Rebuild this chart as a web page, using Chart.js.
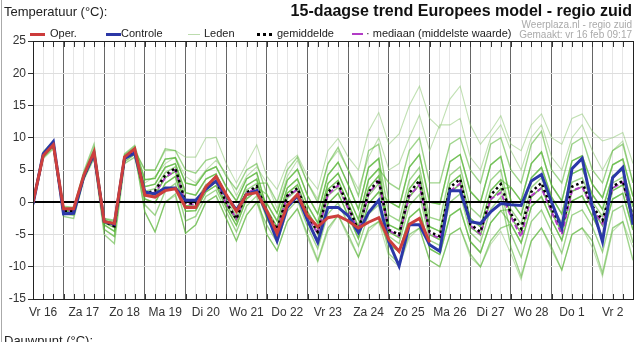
<!DOCTYPE html>
<html><head><meta charset="utf-8">
<script src="https://cdn.jsdelivr.net/npm/chart.js@4/dist/chart.umd.min.js"></script>
<style>
html,body{margin:0;padding:0;background:#fff;}
#wrap{position:relative;width:640px;height:342px;overflow:hidden;font-family:"Liberation Sans",Arial,sans-serif;}
#c{position:absolute;left:0;top:0;}
.t{position:absolute;white-space:nowrap;line-height:1;}
.ln{position:absolute;}
</style></head>
<body><div id="wrap">
<canvas id="c" width="640" height="342"></canvas>
<div style="position:absolute;left:1px;top:0;width:0;height:342px;border-left:1px solid #aaa"></div>
<div class="t" style="left:4px;top:5px;font-size:13px;color:#222">Temperatuur (°C):</div>
<div class="t" style="right:8px;top:3px;font-size:16px;font-weight:bold;color:#111">15-daagse trend Europees model - regio zuid</div>
<div class="t" style="right:8px;top:20px;font-size:10px;color:#aaa">Weerplaza.nl - regio zuid</div>
<div class="t" style="right:8px;top:30px;font-size:10px;color:#aaa">Gemaakt: vr 16 feb 09:17</div>

<div class="ln" style="left:30px;top:33px;width:15px;height:3px;background:#cc3b3b"></div>
<div class="t" style="left:50px;top:28px;font-size:11px;color:#222">Oper.</div>
<div class="ln" style="left:106px;top:33px;width:15px;height:3px;background:#2b37a6"></div>
<div class="t" style="left:121px;top:28px;font-size:11px;color:#222">Controle</div>
<div class="ln" style="left:188px;top:34px;width:12px;height:1px;background:#bcdcae"></div>
<div class="t" style="left:204px;top:28px;font-size:11px;color:#222">Leden</div>
<div class="ln" style="left:257px;top:33px;width:15px;height:0;border-top:3px dotted #000"></div>
<div class="t" style="left:277px;top:28px;font-size:11px;color:#222">gemiddelde</div>
<div class="ln" style="left:352px;top:33px;width:11px;height:2px;background:#b23cc6"></div>
<div class="t" style="left:366px;top:28px;font-size:11px;color:#222">· mediaan (middelste waarde)</div>

<div class="t" style="left:4px;top:334px;font-size:13px;color:#222">Dauwpunt (°C):</div>
</div>
<script>
const dayLabels = ["Vr 16","Za 17","Zo 18","Ma 19","Di 20","Wo 21","Do 22","Vr 23","Za 24","Zo 25","Ma 26","Di 27","Wo 28","Do 1","Vr 2"];
const yTicks = [-15,-10,-5,0,5,10,15,20,25];

const oper = [0.0,7.2,8.9,-1.0,-1.0,4.2,7.8,-3.0,-3.3,7.0,8.3,
1.1,0.8,1.8,2.1,-0.8,-0.8,2.4,4.0,1.2,-1.4,1.2,1.5,
-1.4,-4.8,-0.5,1.2,-2.1,-3.8,-2.4,-2.1,-2.9,-4.0,-3.1,-2.4,
-5.8,-7.6,-3.4,-2.5,-6.2,
null,null,null,null,null,null,null,null,null,null,null,null,null,null,null,null,null,null,null,null];

const controle = [-0.3,7.5,9.4,-1.8,-1.7,4.0,7.5,-3.0,-3.4,6.8,7.6,
1.6,1.3,2.2,2.2,0.3,0.3,2.0,3.3,1.0,-1.2,1.2,1.8,
-1.8,-6.0,-0.8,1.0,-2.8,-6.2,-0.8,-0.8,-2.1,-4.7,-1.6,0.3,
-6.2,-9.9,-3.5,-3.5,-6.6,-7.6,1.8,1.8,-3.0,-3.3,-1.5,-0.2,
-0.4,-0.5,3.3,4.3,0.0,-4.0,5.2,6.8,-0.7,-6.1,3.8,5.4,-3.5];

const gemiddelde = [-0.1,7.3,9.0,-1.3,-1.3,4.0,7.6,-3.0,-3.7,6.8,8.0,
1.3,1.8,4.2,5.3,0.0,-0.3,2.3,3.3,0.0,-2.6,1.5,2.5,
-1.5,-4.2,1.0,2.2,-2.0,-4.6,1.6,2.9,-0.6,-4.4,1.6,3.5,
-4.3,-5.0,1.4,3.4,-4.6,-5.3,2.3,3.6,-3.4,-4.6,1.1,2.8,
-1.8,-4.1,1.6,3.0,-1.0,-3.9,2.4,3.1,-0.6,-2.8,2.5,3.3,-2.3];

const mediaan = [-0.1,7.3,9.0,-1.3,-1.3,4.0,7.6,-3.0,-3.7,6.8,8.0,
1.2,1.5,3.8,5.0,-0.2,-0.4,2.1,3.2,-0.2,-2.5,1.4,2.2,
-1.6,-4.3,0.9,2.0,-2.2,-4.8,1.2,2.6,-1.0,-4.4,1.3,3.3,
-4.4,-5.2,1.0,2.7,-4.9,-5.6,1.7,2.9,-3.6,-4.9,0.5,1.5,
-2.2,-5.4,1.0,2.2,-1.5,-5.0,1.8,2.4,-0.9,-3.3,2.2,3.1,-2.6];

const leden01 = [-0.1,7.2,8.9,-1.4,-1.4,3.9,7.5,-3.2,-3.9,6.7,7.9,
-1.5,-4.6,0,1.3,-4.8,-3.5,0,1.0,-2.5,-6.0,-2.0,0,
-3.6,-6.2,-1.4,0.3,-3.8,-7.2,-1.8,-0.1,-3.3,-6.8,-1.8,-0.4,
-8.0,-9.5,-5.0,-4.0,-9.0,-10.0,-5.0,-4.0,-8.0,-10.0,-6.0,-4.0,
-3.4,-6.3,-0.7,0.9,-2.8,-5.9,0.2,1.0,-2.2,-5.3,0.5,1.4,-4.3];
const leden02 = [0,7.3,9.0,-1.2,-1.2,4.1,7.7,-2.9,-3.6,6.9,8.1,
5.0,5.0,8.3,8.0,5.0,4.5,6.5,7.0,4.0,2.0,5.0,6.0,
1.2,-1.7,3.4,5.1,1.0,-1.8,4.2,6.2,2.7,-1.1,5.4,6.8,
-2.0,-2.9,3.4,5.4,-2.3,-2.8,4.2,5.5,-0.8,-2.3,3.4,5.0,
-2.3,-4.8,0.8,2.3,-1.6,-4.6,1.7,2.4,-1.1,-3.6,1.8,2.7,-3.0];
const leden03 = [-0.2,7.1,8.8,-1.5,-1.6,3.8,7.4,-3.5,-4.5,6.6,7.7,
1.0,1.2,3.8,4.8,-0.5,-0.6,2.1,3.1,-0.3,-2.9,1.2,2.3,
-0.2,-2.9,2.2,3.6,-0.5,-3.2,2.9,4.5,0.9,-2.7,3.5,5.2,
3.0,2.0,8.0,10.0,3.0,3.0,9.0,10.0,5.0,3.0,9.0,10.0,
5.0,3.0,9.0,11.0,5.0,3.0,9.0,10.0,5.0,3.0,8.0,9.0,3.0];
const leden04 = [0.1,7.4,9.1,-1.0,-1.1,4.2,7.9,-2.8,-3.3,7.0,8.3,
2.4,2.8,5.4,6.0,1.5,1.1,3.6,4.4,1.2,-1.2,2.6,3.6,
-1.9,-4.5,0.6,1.9,-2.3,-5.0,1.0,2.3,-1.2,-4.7,1.0,2.9,
-5.3,-6.4,-0.5,1.2,-5.9,-6.7,0.0,1.3,-4.7,-6.2,-1.1,0.8,
-7.0,-11.5,-6.0,-4.0,-7.0,-10.5,-5.0,-4.0,-6.0,-11.0,-4.0,-3.0,-9.0];
const leden05 = [0.2,7.6,9.3,-0.8,-0.9,4.5,8.4,-2.6,-3.0,7.3,8.6,
-0.4,-2.0,1.7,2.9,-2.9,-2.2,0.9,1.9,-1.5,-4.6,-0.6,1.0,
-5.0,-7.5,-3.0,-1.0,-5.0,-9.0,-4.0,-2.0,-5.0,-8.5,-4.0,-3.0,
-6.5,-7.7,-2.4,-1.0,-7.2,-8.1,-2.1,-1.0,-6.1,-7.8,-3.2,-1.3,
-1.1,-3.4,2.3,3.8,-0.4,-3.2,3.1,3.8,0.1,-2.2,3.0,3.9,-1.8];
const leden06 = [-0.3,7.0,8.6,-1.8,-2.0,3.7,7.1,-4.2,-5.3,6.3,7.4,
1.7,2.1,4.6,5.5,0.5,0.2,2.7,3.7,0.4,-2.1,1.9,2.9,
3.0,0,5.0,7.0,3.0,0,6.0,8.5,5.0,1.0,8.0,9.0,
0.1,-0.8,5.4,7.4,0,-0.3,6.3,7.4,1.7,0,5.8,7.1,
0.2,-2.0,3.8,5.4,0.8,-1.8,4.4,5.2,1.2,-1.1,4.1,5.0,-0.7];
const leden07 = [0.3,7.8,9.5,-0.6,-0.8,4.8,9.0,-2.5,-2.8,7.5,8.8,
3.5,3.7,6.7,6.9,3.0,2.6,4.8,5.5,2.4,0.2,3.6,4.6,
-1.1,-3.8,1.4,2.7,-1.5,-4.1,2.0,3.4,-0.2,-3.8,2.2,4.1,
-4.6,-5.5,0.8,2.7,-5.0,-5.8,1.5,2.8,-3.8,-5.1,0.3,2.1,
-4.9,-8.5,-3.0,-1.2,-4.6,-7.9,-2.0,-1.2,-3.8,-7.7,-1.4,-0.5,-6.3];
const leden08 = [-0.5,6.8,8.3,-2.2,-2.5,3.5,6.8,-5.0,-6.4,6.0,7.0,
0.5,-0.1,2.9,4.0,-1.4,-1.3,1.6,2.6,-0.8,-3.6,0.5,1.8,
-2.6,-5.2,-0.2,1.2,-2.9,-5.9,-0.2,1.4,-2.1,-5.6,-0.2,1.6,
-3.5,-4.3,2.1,4.1,-3.8,-4.5,2.9,4.2,-2.5,-3.8,1.8,3.5,
2.3,0.2,6.0,7.8,2.6,0.2,6.4,7.2,2.8,0.7,5.8,6.7,0.9];
const leden09 = [0,7.3,9.0,-1.2,-1.2,4.1,7.7,-2.9,-3.6,6.9,8.1,
1.0,1.2,3.8,4.8,-0.5,-0.6,2.1,3.1,-0.3,-2.9,1.2,2.3,
1.2,-1.7,3.4,5.1,1.0,-1.8,4.2,6.2,2.7,-1.1,5.4,6.8,
-6.5,-7.7,-2.4,-1.0,-7.2,-8.1,-2.1,-1.0,-6.1,-7.8,-3.2,-1.3,
-3.4,-6.3,-0.7,0.9,-2.8,-5.9,0.2,1.0,-2.2,-5.3,0.5,1.4,-4.3];
const leden10 = [-0.1,7.2,8.9,-1.4,-1.4,3.9,7.5,-3.2,-3.9,6.7,7.9,
2.4,2.8,5.4,6.0,1.5,1.1,3.6,4.4,1.2,-1.2,2.6,3.6,
-2.6,-5.2,-0.2,1.2,-2.9,-5.9,-0.2,1.4,-2.1,-5.6,-0.2,1.6,
0.1,-0.8,5.4,7.4,0,-0.3,6.3,7.4,1.7,0,5.8,7.1,
0.2,-2.0,3.8,5.4,0.8,-1.8,4.4,5.2,1.2,-1.1,4.1,5.0,-0.7];
const leden11 = [0.1,7.4,9.1,-1.0,-1.1,4.2,7.9,-2.8,-3.3,7.0,8.3,
3.5,3.7,6.7,6.9,3.0,2.6,4.8,5.5,2.4,0.2,3.6,4.6,
-1.1,-3.8,1.4,2.7,-1.5,-4.1,2.0,3.4,-0.2,-3.8,2.2,4.1,
-3.5,-4.3,2.1,4.1,-3.8,-4.5,2.9,4.2,-2.5,-3.8,1.8,3.5,
-2.3,-4.8,0.8,2.3,-1.6,-4.6,1.7,2.4,-1.1,-3.6,1.8,2.7,-3.0];
const leden12 = [-0.2,7.1,8.8,-1.5,-1.6,3.8,7.4,-3.5,-4.5,6.6,7.7,
0.5,-0.1,2.9,4.0,-1.4,-1.3,1.6,2.6,-0.8,-3.6,0.5,1.8,
-0.2,-2.9,2.2,3.6,-0.5,-3.2,2.9,4.5,0.9,-2.7,3.5,5.2,
-4.6,-5.5,0.8,2.7,-5.0,-5.8,1.5,2.8,-3.8,-5.1,0.3,2.1,
2.3,0.2,6.0,7.8,2.6,0.2,6.4,7.2,2.8,0.7,5.8,6.7,0.9];
const leden13 = [0,7.3,9.0,-1.2,-1.2,4.1,7.7,-2.9,-3.6,6.9,8.1,
5.0,5.0,8.0,8.0,7.0,7.0,10.0,10.0,6.0,3.0,6.0,8.9,
4.0,2.0,6.0,7.3,4.0,2.0,8.0,9.9,7.0,5.0,11.0,13.9,
9.0,10.6,15.0,18.0,13.0,11.5,16.0,18.0,12.0,9.0,11.0,13.4,
9.0,8.0,12.0,13.7,10.0,9.0,13.0,13.7,11.0,9.5,10.0,10.8,6.0];
const leden14 = [0.1,7.4,9.1,-1.0,-1.1,4.2,7.9,-2.8,-3.3,7.0,8.3,
3.0,4.0,6.0,7.0,4.0,3.0,5.0,6.5,4.5,1.0,4.0,5.5,
3.0,-1.0,4.0,6.5,3.0,0.5,6.0,8.0,5.0,2.0,7.0,10.0,
5.0,6.0,10.0,13.5,8.0,12.0,12.0,13.0,7.0,5.0,10.0,12.0,
8.0,5.0,10.0,12.0,7.0,5.0,10.0,12.0,8.0,5.0,8.0,9.5,3.0];
const leden15 = [-0.3,7.0,8.6,-1.8,-2.0,3.7,7.1,-4.2,-5.3,6.3,7.4,
-1.5,-4.6,0,1.0,-4.8,-3.5,0,1.0,-2.5,-6.0,-2.0,0.0,
-5.0,-7.5,-3.0,-1.0,-5.5,-9.3,-4.5,-2.0,-5.5,-8.5,-4.5,-3.0,
-8.5,-10.0,-5.5,-4.0,-9.0,-10.0,-5.0,-4.0,-8.5,-10.0,-6.5,-4.5,
-8.0,-12.0,-6.0,-4.0,-7.5,-10.5,-5.0,-4.0,-7.0,-11.5,-4.5,-3.0,-7.0];

const ledenBulk = [leden01,leden02,leden03,leden04,leden05,leden06,leden07,leden08,leden09,leden10,leden11,leden12];
const ledenOuter = [leden13,leden14,leden15];

const pts = arr => arr.map((v,i)=>({x:i,y:v}));
const datasets = [
  {label:'Oper.', data:pts(oper), borderColor:'#cd3f3d', borderWidth:3},
  {label:'Controle', data:pts(controle), borderColor:'#2b38a8', borderWidth:3},
  {label:'gemiddelde', data:pts(gemiddelde), borderColor:'#000', borderWidth:2.5, borderDash:[2.5,3]},
  {label:'mediaan', data:pts(mediaan), borderColor:'#b23cc6', borderWidth:2, borderDash:[5,3]},
];
ledenBulk.forEach(a=>datasets.push({label:'Leden', data:pts(a), borderColor:'rgba(80,178,45,0.55)', borderWidth:1.4}));
ledenOuter.forEach(a=>datasets.push({label:'Leden', data:pts(a), borderColor:'rgba(140,198,115,0.55)', borderWidth:1.1}));
const lastMemberDrawIndex = 4;

const deco = {
  id:'deco',
  afterDatasetDraw(chart,args){
    if(args.index!==lastMemberDrawIndex) return;
    const {ctx,chartArea:a,scales:{y}} = chart;
    const yy = Math.round(y.getPixelForValue(0));
    ctx.save(); ctx.strokeStyle='#000'; ctx.lineWidth=2;
    ctx.beginPath(); ctx.moveTo(a.left,yy); ctx.lineTo(a.right,yy); ctx.stroke(); ctx.restore();
  },
  afterDraw(chart){
    const {ctx,chartArea:a,scales:{x}} = chart;
    ctx.save(); ctx.strokeStyle='#333'; ctx.lineWidth=1;
    ctx.beginPath();
    for(let i=x.min;i<=x.max;i++){
      const px = Math.round(x.getPixelForValue(i))+0.5;
      ctx.moveTo(px,a.bottom); ctx.lineTo(px,a.bottom-5);
      ctx.moveTo(px,a.top); ctx.lineTo(px,a.top+6);
    }
    ctx.stroke();
    ctx.strokeStyle='#222';
    ctx.strokeRect(Math.round(a.left)+0.5,Math.round(a.top)+0.5,Math.round(a.right-a.left),Math.round(a.bottom-a.top));
    ctx.restore();
  }
};

new Chart(document.getElementById('c'), {
  type:'line',
  data:{datasets},
  options:{
    responsive:false, animation:false,
    layout:{padding:{top:41,right:7,left:0,bottom:0}},
    elements:{point:{radius:0}, line:{tension:0}},
    plugins:{legend:{display:false}, tooltip:{enabled:false}},
    scales:{
      x:{type:'linear', min:0, max:59,
        afterBuildTicks:s=>{ const t=[]; for(let i=0;i<=59;i++) t.push({value:i}); s.ticks=t; },
        afterFit:s=>{ s.height=43; },
        grid:{color:c=> (c.tick && c.tick.value%4===3) ? '#666' : '#e6e6e6', lineWidth:1, drawTicks:false},
        border:{display:true, color:'#222'},
        ticks:{autoSkip:false, maxRotation:0, padding:6, color:'#333', font:{size:12, family:'Liberation Sans'},
          callback:v=> ((v-1)%4===0) ? dayLabels[(v-1)/4] : ''}
      },
      y:{min:-15, max:25,
        afterBuildTicks:s=>{ s.ticks = yTicks.map(v=>({value:v})); },
        afterFit:s=>{ s.width=33; },
        grid:{color:'#dedede', tickColor:'#333', tickLength:5},
        border:{display:true, color:'#222'},
        ticks:{color:'#333', padding:2, font:{size:12, family:'Liberation Sans'}}
      }
    }
  },
  plugins:[deco]
});
</script>
</body></html>
